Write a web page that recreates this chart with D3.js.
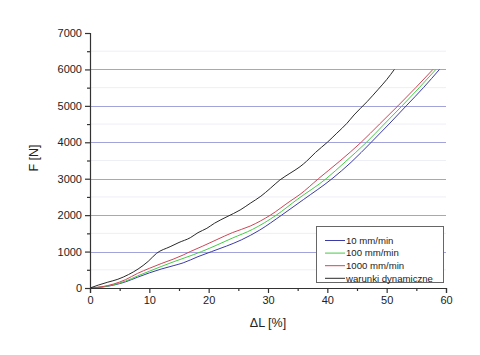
<!DOCTYPE html>
<html><head><meta charset="utf-8">
<script src="https://cdn.jsdelivr.net/npm/d3@7"></script>
<style>
html,body{margin:0;padding:0;background:#fff;}
svg{display:block;font-family:"Liberation Sans",Arial,sans-serif;}
</style></head>
<body><svg id="c" width="480" height="355"></svg>
<script>
// ---- data ----
const seriesNames = ["10 mm/min", "100 mm/min", "1000 mm/min", "warunki dynamiczne"];
const seriesColors = ["#3a3aa8", "#44cc44", "#d04555", "#2a2a2a"];

const x10   = [0, 2, 4, 6, 8, 10, 12, 14, 15.7, 18.2, 20.5, 23, 25.5, 28.6, 32.3, 36, 40.8, 44, 47.4, 50.4, 53.3, 56.2, 58.9];
const f10   = [0, 25, 80, 170, 295, 415, 520, 610, 690, 860, 1000, 1150, 1320, 1590, 2000, 2430, 3000, 3450, 4000, 4500, 5000, 5500, 6000];

const x100  = [0, 2, 4, 6, 8, 10, 12, 14, 16, 18.8, 21.4, 24, 27.4, 31.4, 35, 39.8, 43, 46.6, 49.6, 52.6, 55.5, 58.3];
const f100  = [0, 30, 90, 190, 330, 460, 590, 715, 830, 1000, 1180, 1370, 1610, 2000, 2440, 3000, 3460, 4000, 4500, 5000, 5500, 6000];

const x1000 = [0, 2, 4, 6, 8, 10, 12, 14, 15.7, 16.9, 19, 21.4, 24, 27, 30.4, 33.7, 35.4, 38.5, 42, 45.7, 48.8, 51.9, 54.9, 57.8];
const f1000 = [0, 35, 110, 230, 400, 540, 670, 790, 906, 1000, 1150, 1330, 1520, 1700, 2000, 2380, 2570, 3000, 3470, 4000, 4500, 5000, 5500, 6000];

const xDyn  = [0, 1.4, 3, 4.7, 6.5, 8.1, 9.8, 11.2, 13.5, 15, 16.9, 18.2, 19.7, 21, 23.1, 25.3, 27, 28.8, 30.4, 32, 33.7, 35.4, 36.5, 38, 40, 41.6, 43.3, 44.5, 46.7, 48.5, 50, 51.3];
const fDyn  = [0, 80, 160, 240, 370, 520, 730, 950, 1134, 1250, 1380, 1519, 1639, 1780, 1958, 2141, 2325, 2520, 2737, 2965, 3148, 3330, 3480, 3720, 4000, 4250, 4520, 4750, 5115, 5440, 5720, 6000];

const xTicks = [0, 10, 20, 30, 40, 50, 60];
const yTicks = [0, 1000, 2000, 3000, 4000, 5000, 6000, 7000];
const gridValues = [1000, 2000, 3000, 4000, 5000, 6000];
const xTitle = "\u0394L [%]";
const yTitle = "F [N]";

// ---- drawing ----
const svg = d3.select("#c");
const x = d3.scaleLinear().domain([0, 60]).range([90, 446]);
const y = d3.scaleLinear().domain([0, 7000]).range([288, 33]);

// faint minor grid
svg.append("g").selectAll("line").data(d3.range(500, 7000, 1000)).join("line")
  .attr("x1", x(0)).attr("x2", x(60))
  .attr("y1", d => y(d)).attr("y2", d => y(d))
  .attr("stroke", "#eeeef6").attr("stroke-width", 1);

// major grid
svg.append("g").selectAll("line").data(gridValues).join("line")
  .attr("x1", x(0)).attr("x2", x(60))
  .attr("y1", d => Math.round(y(d)) + 0.5).attr("y2", d => Math.round(y(d)) + 0.5)
  .attr("stroke", "#a3a3dc").attr("stroke-width", 1);

const data = [
  {xs: x10, fs: f10},
  {xs: x100, fs: f100},
  {xs: x1000, fs: f1000},
  {xs: xDyn, fs: fDyn}
];
const line = d3.line().x(d => x(d[0])).y(d => y(d[1])).curve(d3.curveMonotoneX);
svg.append("g").selectAll("path").data(data).join("path")
  .attr("d", s => line(s.xs.map((v, i) => [v, s.fs[i]])))
  .attr("fill", "none")
  .attr("stroke", (s, i) => seriesColors[i])
  .attr("stroke-width", 1);

// axes
const axisColor = "#333";
const xAxis = svg.append("g").attr("transform", "translate(0,288)")
  .call(d3.axisBottom(x).tickValues(xTicks).tickSize(5).tickPadding(3).tickFormat(d3.format("d")));
const xMinor = svg.append("g").attr("transform", "translate(0,288)")
  .call(d3.axisBottom(x).tickValues(d3.range(5, 60, 10)).tickSize(3).tickFormat(""));
const yAxis = svg.append("g").attr("transform", "translate(90,0)")
  .call(d3.axisLeft(y).tickValues(yTicks).tickSize(5).tickPadding(3).tickFormat(d3.format("d")));
const yMinor = svg.append("g").attr("transform", "translate(90,0)")
  .call(d3.axisLeft(y).tickValues(d3.range(500, 7000, 1000)).tickSize(3).tickFormat(""));
[xAxis, xMinor, yAxis, yMinor].forEach(g => {
  g.selectAll("path").attr("stroke", axisColor).attr("stroke-width", 1.2);
  g.selectAll("line").attr("stroke", axisColor).attr("stroke-width", 1.2);
  g.selectAll("text").attr("fill", "#222").style("font-size", "11px")
    .style("font-family", "'Liberation Sans',Arial,sans-serif");
});
yMinor.select("path").remove();
xMinor.select("path").remove();

// titles
svg.append("text").attr("x", 268).attr("y", 327).attr("text-anchor", "middle")
  .style("font-size", "12.5px").attr("fill", "#222").text(xTitle);
svg.append("text").attr("transform", "translate(38,158) rotate(-90)").attr("text-anchor", "middle")
  .style("font-size", "12.5px").attr("fill", "#222").text(yTitle);

// legend
const lg = svg.append("g");
lg.append("rect").attr("x", 316.5).attr("y", 226.5).attr("width", 127).attr("height", 56)
  .attr("fill", "#fff").attr("stroke", "#666").attr("stroke-width", 1);
const rows = lg.selectAll("g.row").data(seriesNames).join("g").attr("class", "row")
  .attr("transform", (d, i) => `translate(0,${240.5 + i * 12.6})`);
rows.append("line").attr("x1", 325).attr("x2", 345).attr("y1", 0).attr("y2", 0)
  .attr("stroke", (d, i) => seriesColors[i]).attr("stroke-width", 1);
rows.append("text").attr("x", 346).attr("y", 0).attr("dy", "0.35em")
  .style("font-size", "9.6px").attr("fill", "#222").text(d => d);
</script>
</body></html>
